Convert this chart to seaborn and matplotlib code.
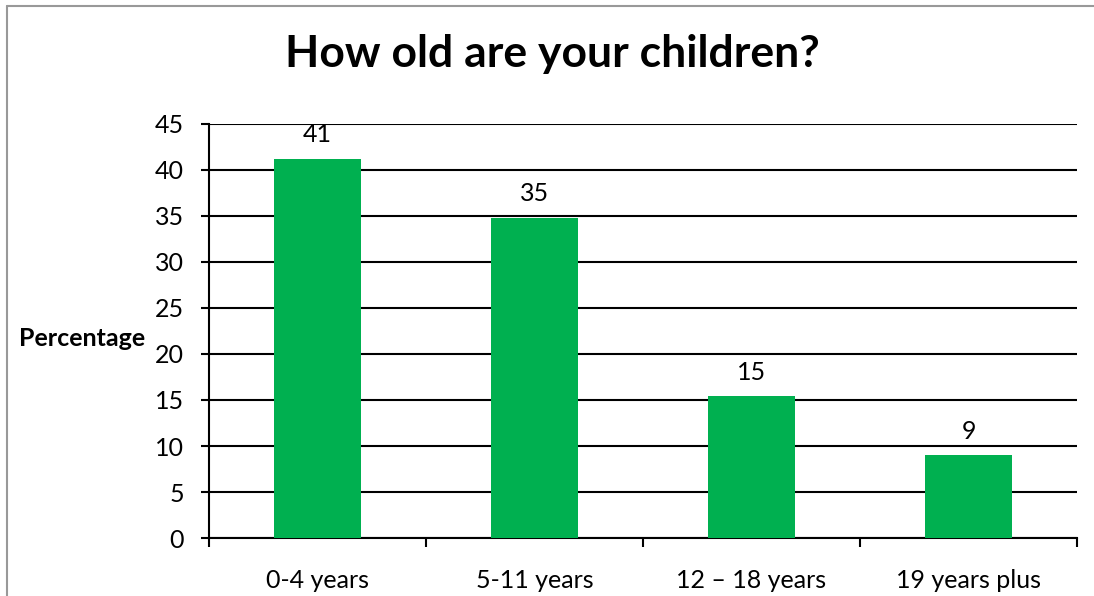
import matplotlib.pyplot as plt
import matplotlib.lines as mlines
import numpy as np
import pandas as pd
import seaborn as sns

# values
age_groups = ["0-4 years", "5-11 years", "12 \u2013 18 years", "19 years plus"]
percentages = [41.2, 34.8, 15.4, 9.0]
y_ticks = [0, 5, 10, 15, 20, 25, 30, 35, 40, 45]

sns.set_theme(style="white")
plt.rcParams["font.family"] = ["Lato", "DejaVu Sans"]
plt.rcParams["text.color"] = "black"
plt.rcParams["xtick.color"] = "black"
plt.rcParams["ytick.color"] = "black"
plt.rcParams["axes.labelcolor"] = "black"

df = pd.DataFrame({"age": age_groups, "pct": percentages})

fig = plt.figure(figsize=(10.94, 5.96), dpi=100)
ax = fig.add_axes([0.191, 0.0973, 0.7935, 0.6947])

sns.barplot(data=df, x="age", y="pct", color="#00B050", saturation=1,
            width=0.4, linewidth=0, edgecolor="none", ax=ax, zorder=3)
ax.bar_label(ax.containers[0], fmt="%.0f", padding=9, fontsize=18)

ax.set_ylim(0, 45)
ax.set_yticks(y_ticks)
ax.set_xlim(-0.5, len(age_groups) - 0.5)
ax.yaxis.grid(True, color="black", linewidth=1.5, zorder=0)
ax.set_axisbelow(True)

for side in ["top", "right"]:
    ax.spines[side].set_visible(False)
for side in ["left", "bottom"]:
    ax.spines[side].set_color("black")
    ax.spines[side].set_linewidth(1.5)

ax.tick_params(axis="y", left=True, length=6, width=1.5, labelsize=18, pad=12)
ax.tick_params(axis="x", which="major", length=0, labelsize=18, pad=22)
ax.set_xticks(np.arange(-0.5, len(age_groups)), minor=True)
ax.tick_params(axis="x", which="minor", bottom=True, length=6.5, width=1.5)

ax.set_xlabel("")
ax.set_ylabel("Percentage", fontsize=18, fontweight="bold", rotation=0,
              ha="center", va="center")
ax.yaxis.set_label_coords(-0.146, 0.483)

fig.text(0.505, 0.91, "How old are your children?", ha="center", va="center",
         fontsize=32, fontweight="bold")

# thin gray frame on the left and top edges of the chart area
fig.add_artist(mlines.Line2D([0.0062, 0.0062], [0, 0.99], color="#999999",
                             linewidth=1.5, transform=fig.transFigure))
fig.add_artist(mlines.Line2D([0.0062, 1.0], [0.99, 0.99], color="#999999",
                             linewidth=1.5, transform=fig.transFigure))

fig.savefig("out.png", dpi=100)
